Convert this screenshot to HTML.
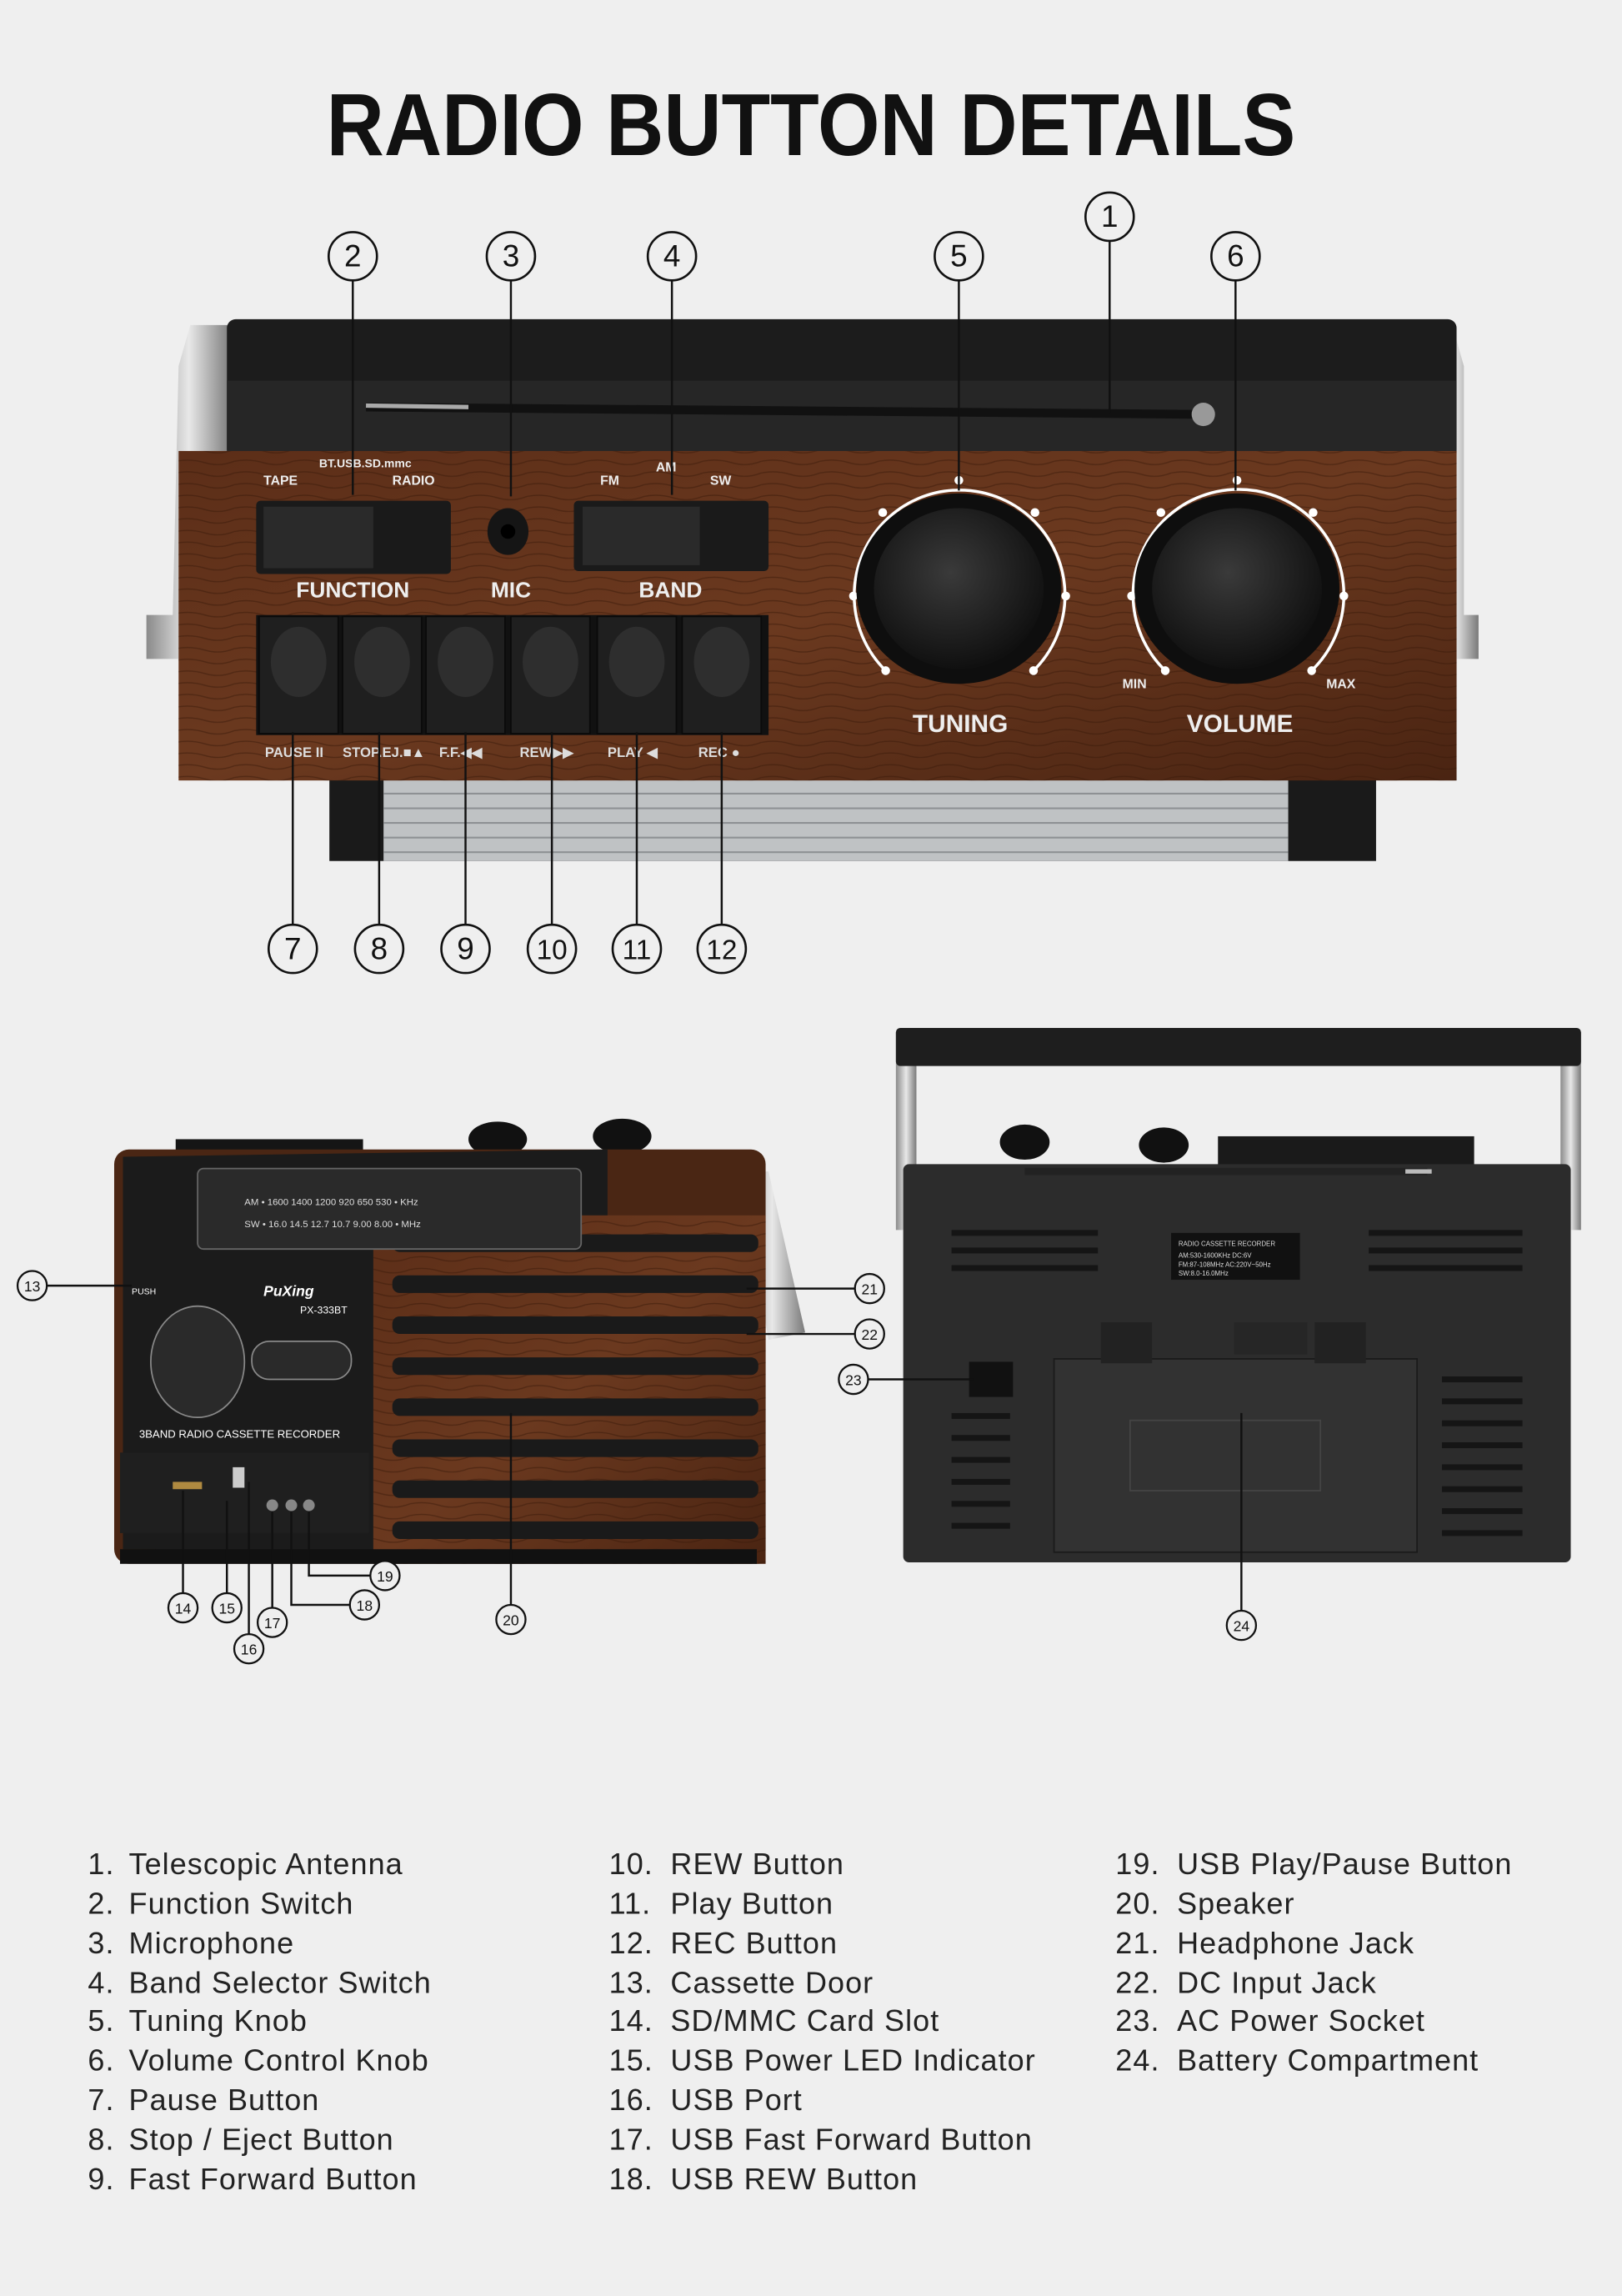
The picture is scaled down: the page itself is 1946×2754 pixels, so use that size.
<!DOCTYPE html>
<html><head><meta charset="utf-8"><style>
html,body{margin:0;padding:0;background:#efefef;}
svg{display:block;}
</style></head><body>
<svg width="1946" height="2754" viewBox="0 0 1108 1568" preserveAspectRatio="none" xmlns="http://www.w3.org/2000/svg" font-family="Liberation Sans, sans-serif">
<defs>
<linearGradient id="wood" x1="0" y1="0" x2="1" y2="1">
<stop offset="0" stop-color="#5c2e18"/><stop offset=".5" stop-color="#6b391f"/><stop offset="1" stop-color="#4a2412"/>
</linearGradient>
<linearGradient id="silver" x1="0" y1="0" x2="1" y2="0">
<stop offset="0" stop-color="#8a8a8a"/><stop offset=".5" stop-color="#e8e8e8"/><stop offset="1" stop-color="#7a7a7a"/>
</linearGradient>
<radialGradient id="knob" cx=".45" cy=".4" r=".6">
<stop offset="0" stop-color="#3a3a3a"/><stop offset="1" stop-color="#101010"/>
</radialGradient>
<pattern id="grain" width="40" height="8" patternUnits="userSpaceOnUse">
<path d="M0 3 Q10 1 20 4 T40 3" stroke="#3a1a0a" stroke-width=".8" fill="none" opacity=".5"/>
</pattern>
</defs>
<rect width="1108" height="1568" fill="#efefef"/>
<text x="554" y="106" text-anchor="middle" font-size="60" font-weight="bold" fill="#111" textLength="662" lengthAdjust="spacingAndGlyphs">RADIO BUTTON DETAILS</text>

<!-- TOP RADIO -->
<path d="M130 222 L158 222 L158 450 L100 450 L100 420 L118 420 L122 250 Z" fill="url(#silver)"/>
<path d="M978 222 L992 222 L1000 250 L1000 420 L1010 420 L1010 450 L978 450 Z" fill="url(#silver)"/>
<rect x="155" y="218" width="840" height="95" rx="6" fill="#1c1c1c"/>
<rect x="155" y="260" width="840" height="50" fill="#262626"/>
<line x1="250" y1="278" x2="825" y2="283" stroke="#111" stroke-width="6"/>
<line x1="250" y1="277" x2="320" y2="278" stroke="#aaa" stroke-width="3"/>
<circle cx="822" cy="283" r="8" fill="#999"/>
<rect x="225" y="530" width="715" height="58" fill="#1a1a1a"/>
<rect x="262" y="532" width="618" height="56" fill="#bfc2c4"/>
<g stroke="#8e9194" stroke-width="1.2">
<line x1="262" y1="542" x2="880" y2="542"/><line x1="262" y1="552" x2="880" y2="552"/><line x1="262" y1="562" x2="880" y2="562"/><line x1="262" y1="572" x2="880" y2="572"/><line x1="262" y1="582" x2="880" y2="582"/>
</g>
<rect x="122" y="308" width="873" height="225" fill="url(#wood)"/>
<rect x="122" y="308" width="873" height="225" fill="url(#grain)"/>
<g fill="#eee" font-weight="bold">
<text x="218" y="319" font-size="8">BT.USB.SD.mmc</text>
<text x="180" y="331" font-size="9">TAPE</text><text x="268" y="331" font-size="9">RADIO</text>
<text x="410" y="331" font-size="9">FM</text><text x="448" y="322" font-size="9">AM</text><text x="485" y="331" font-size="9">SW</text>
<text x="241" y="408" font-size="15" text-anchor="middle">FUNCTION</text>
<text x="349" y="408" font-size="15" text-anchor="middle">MIC</text>
<text x="458" y="408" font-size="15" text-anchor="middle">BAND</text>
<text x="656" y="500" font-size="17" text-anchor="middle">TUNING</text>
<text x="847" y="500" font-size="17" text-anchor="middle">VOLUME</text>
<text x="775" y="470" font-size="9" text-anchor="middle">MIN</text>
<text x="916" y="470" font-size="9" text-anchor="middle">MAX</text>
</g>
<rect x="175" y="342" width="133" height="50" rx="3" fill="#1a1a1a"/>
<rect x="180" y="346" width="75" height="42" fill="#2a2a2a"/>
<ellipse cx="347" cy="363" rx="14" ry="16" fill="#151515"/><circle cx="347" cy="363" r="5" fill="#000"/>
<rect x="392" y="342" width="133" height="48" rx="3" fill="#1a1a1a"/>
<rect x="398" y="346" width="80" height="40" fill="#2a2a2a"/>
<g fill="none" stroke="#fff" stroke-width="2">
<path d="M605 458 A72 72 0 1 1 706 458"/>
<path d="M796 458 A72 72 0 1 1 896 458"/>
</g>
<g fill="#fff">
<circle cx="655" cy="328" r="3"/><circle cx="603" cy="350" r="3"/><circle cx="707" cy="350" r="3"/><circle cx="583" cy="407" r="3"/><circle cx="728" cy="407" r="3"/><circle cx="605" cy="458" r="3"/><circle cx="706" cy="458" r="3"/>
<circle cx="845" cy="328" r="3"/><circle cx="793" cy="350" r="3"/><circle cx="897" cy="350" r="3"/><circle cx="773" cy="407" r="3"/><circle cx="918" cy="407" r="3"/><circle cx="796" cy="458" r="3"/><circle cx="896" cy="458" r="3"/>
</g>
<ellipse cx="655" cy="402" rx="70" ry="65" fill="#0e0e0e"/>
<ellipse cx="655" cy="402" rx="58" ry="55" fill="url(#knob)"/>
<ellipse cx="845" cy="402" rx="70" ry="65" fill="#0e0e0e"/>
<ellipse cx="845" cy="402" rx="58" ry="55" fill="url(#knob)"/>
<g>
<rect x="175" y="420" width="350" height="82" fill="#111"/>
<g fill="#1f1f1f" stroke="#0a0a0a">
<rect x="177" y="421" width="54" height="80"/><rect x="234" y="421" width="54" height="80"/><rect x="291" y="421" width="54" height="80"/><rect x="349" y="421" width="54" height="80"/><rect x="408" y="421" width="54" height="80"/><rect x="466" y="421" width="54" height="80"/>
</g>
<g fill="#2e2e2e">
<ellipse cx="204" cy="452" rx="19" ry="24"/><ellipse cx="261" cy="452" rx="19" ry="24"/><ellipse cx="318" cy="452" rx="19" ry="24"/><ellipse cx="376" cy="452" rx="19" ry="24"/><ellipse cx="435" cy="452" rx="19" ry="24"/><ellipse cx="493" cy="452" rx="19" ry="24"/>
</g>
</g>
<g fill="#ddd" font-size="9.5" font-weight="bold">
<text x="181" y="517">PAUSE II</text><text x="234" y="517">STOP.EJ.■▲</text><text x="300" y="517">F.F.◀◀</text><text x="355" y="517">REW▶▶</text><text x="415" y="517">PLAY ◀</text><text x="477" y="517">REC ●</text>
</g>

<g stroke="#111" stroke-width="1.4" fill="none">
<line x1="758" y1="165" x2="758" y2="282"/>
<line x1="241" y1="192" x2="241" y2="338"/>
<line x1="349" y1="192" x2="349" y2="339"/>
<line x1="459" y1="192" x2="459" y2="338"/>
<line x1="655" y1="192" x2="655" y2="335"/>
<line x1="844" y1="192" x2="844" y2="335"/>
<line x1="200" y1="500" x2="200" y2="631"/>
<line x1="259" y1="500" x2="259" y2="631"/>
<line x1="318" y1="500" x2="318" y2="631"/>
<line x1="377" y1="500" x2="377" y2="631"/>
<line x1="435" y1="500" x2="435" y2="631"/>
<line x1="493" y1="500" x2="493" y2="631"/>
</g>
<g stroke="#111" stroke-width="1.5" fill="#efefef">
<circle cx="758" cy="148" r="16.5"/><circle cx="241" cy="175" r="16.5"/><circle cx="349" cy="175" r="16.5"/><circle cx="459" cy="175" r="16.5"/><circle cx="655" cy="175" r="16.5"/><circle cx="844" cy="175" r="16.5"/>
<circle cx="200" cy="648" r="16.5"/><circle cx="259" cy="648" r="16.5"/><circle cx="318" cy="648" r="16.5"/><circle cx="377" cy="648" r="16.5"/><circle cx="435" cy="648" r="16.5"/><circle cx="493" cy="648" r="16.5"/>
</g>
<g font-size="21" text-anchor="middle" fill="#111">
<text x="758" y="155">1</text><text x="241" y="182">2</text><text x="349" y="182">3</text><text x="459" y="182">4</text><text x="655" y="182">5</text><text x="844" y="182">6</text>
<text x="200" y="655">7</text><text x="259" y="655">8</text><text x="318" y="655">9</text><text x="377" y="655" font-size="19">10</text><text x="435" y="655" font-size="19">11</text><text x="493" y="655" font-size="19">12</text>
</g>

<!-- BOTTOM LEFT RADIO -->
<rect x="120" y="778" width="128" height="22" fill="#151515"/>
<ellipse cx="340" cy="778" rx="20" ry="12" fill="#111"/>
<ellipse cx="425" cy="776" rx="20" ry="12" fill="#111"/>
<path d="M505 800 L525 800 L550 910 L525 915 Z" fill="url(#silver)"/>
<rect x="78" y="785" width="445" height="283" rx="10" fill="#4a2614"/>
<path d="M84 790 L415 785 L415 1060 L84 1058 Z" fill="#1b1b1b"/>
<rect x="255" y="830" width="268" height="238" fill="url(#wood)"/>
<rect x="255" y="830" width="268" height="238" fill="url(#grain)"/>
<g fill="#1a1a1a">
<rect x="268" y="843" width="250" height="12" rx="5"/><rect x="268" y="871" width="250" height="12" rx="5"/><rect x="268" y="899" width="250" height="12" rx="5"/><rect x="268" y="927" width="250" height="12" rx="5"/><rect x="268" y="955" width="250" height="12" rx="5"/><rect x="268" y="983" width="250" height="12" rx="5"/><rect x="268" y="1011" width="250" height="12" rx="5"/><rect x="268" y="1039" width="250" height="12" rx="5"/>
</g>
<rect x="135" y="798" width="262" height="55" rx="4" fill="#2a2a2a" stroke="#666"/>
<g fill="#ddd" font-size="6.5">
<text x="167" y="823">AM   •  1600 1400 1200  920   650 530  •  KHz</text>
<text x="167" y="838">SW   •  16.0 14.5  12.7  10.7  9.00 8.00  •  MHz</text>
</g>
<g fill="#fff" font-size="7">
<text x="180" y="885" font-weight="bold" font-size="10" font-style="italic">PuXing</text>
<text x="205" y="897" font-size="7">PX-333BT</text>
<text x="95" y="982" font-size="7.5">3BAND RADIO CASSETTE RECORDER</text>
<text x="182" y="931" font-size="7">AUTO STOP</text>
<text x="90" y="884" font-size="6">PUSH</text>
</g>
<ellipse cx="135" cy="930" rx="32" ry="38" fill="#2a2a2a" stroke="#888"/>
<rect x="172" y="916" width="68" height="26" rx="12" fill="#2a2a2a" stroke="#888"/>
<rect x="82" y="992" width="170" height="55" fill="#1f1f1f"/>
<rect x="118" y="1012" width="20" height="5" fill="#b08a40"/>
<rect x="159" y="1002" width="8" height="14" fill="#ccc"/>
<g fill="#888"><circle cx="186" cy="1028" r="4"/><circle cx="199" cy="1028" r="4"/><circle cx="211" cy="1028" r="4"/></g>
<rect x="82" y="1058" width="435" height="10" fill="#111"/>

<!-- BOTTOM RIGHT RADIO -->
<rect x="612" y="705" width="14" height="135" fill="url(#silver)"/>
<rect x="1066" y="705" width="14" height="135" fill="url(#silver)"/>
<rect x="612" y="702" width="468" height="26" rx="3" fill="#1e1e1e"/>
<ellipse cx="700" cy="780" rx="17" ry="12" fill="#111"/>
<ellipse cx="795" cy="782" rx="17" ry="12" fill="#111"/>
<rect x="832" y="776" width="175" height="20" fill="#1a1a1a"/>
<rect x="617" y="795" width="456" height="272" rx="4" fill="#2c2c2c"/>
<line x1="700" y1="800" x2="975" y2="800" stroke="#222" stroke-width="5"/>
<line x1="960" y1="800" x2="978" y2="800" stroke="#bbb" stroke-width="3"/>
<rect x="800" y="842" width="88" height="32" fill="#111"/>
<g fill="#ddd" font-size="4.5"><text x="805" y="851">RADIO CASSETTE RECORDER</text><text x="805" y="859">AM:530-1600KHz DC:6V</text><text x="805" y="865">FM:87-108MHz AC:220V~50Hz</text><text x="805" y="871">SW:8.0-16.0MHz</text></g>
<g fill="#151515">
<rect x="650" y="840" width="100" height="4"/><rect x="650" y="852" width="100" height="4"/><rect x="650" y="864" width="100" height="4"/>
<rect x="935" y="840" width="105" height="4"/><rect x="935" y="852" width="105" height="4"/><rect x="935" y="864" width="105" height="4"/>
<rect x="985" y="940" width="55" height="4"/><rect x="985" y="955" width="55" height="4"/><rect x="985" y="970" width="55" height="4"/><rect x="985" y="985" width="55" height="4"/><rect x="985" y="1000" width="55" height="4"/><rect x="985" y="1015" width="55" height="4"/><rect x="985" y="1030" width="55" height="4"/><rect x="985" y="1045" width="55" height="4"/>
<rect x="650" y="965" width="40" height="4"/><rect x="650" y="980" width="40" height="4"/><rect x="650" y="995" width="40" height="4"/><rect x="650" y="1010" width="40" height="4"/><rect x="650" y="1025" width="40" height="4"/><rect x="650" y="1040" width="40" height="4"/>
</g>
<rect x="720" y="928" width="248" height="132" fill="#323232" stroke="#1a1a1a"/>
<rect x="772" y="970" width="130" height="48" fill="none" stroke="#444"/>
<rect x="752" y="903" width="35" height="28" fill="#222"/>
<rect x="898" y="903" width="35" height="28" fill="#222"/>
<rect x="843" y="903" width="50" height="22" fill="#262626"/>
<rect x="662" y="930" width="30" height="24" fill="#111"/>

<g stroke="#111" stroke-width="1.4" fill="none">
<line x1="32" y1="878" x2="90" y2="878"/>
<polyline points="125,1088 125,1018"/>
<polyline points="155,1088 155,1025"/>
<polyline points="170,1116 170,1012"/>
<polyline points="186,1098 186,1032"/>
<polyline points="239,1096 199,1096 199,1032"/>
<polyline points="253,1076 211,1076 211,1032"/>
<line x1="349" y1="1096" x2="349" y2="965"/>
<line x1="584" y1="880" x2="510" y2="880"/>
<line x1="584" y1="911" x2="510" y2="911"/>
<line x1="593" y1="942" x2="665" y2="942"/>
<line x1="848" y1="1100" x2="848" y2="965"/>
</g>
<g stroke="#111" stroke-width="1.3" fill="#efefef">
<circle cx="22" cy="878" r="10"/><circle cx="125" cy="1098" r="10"/><circle cx="155" cy="1098" r="10"/><circle cx="170" cy="1126" r="10"/><circle cx="186" cy="1108" r="10"/><circle cx="249" cy="1096" r="10"/><circle cx="263" cy="1076" r="10"/><circle cx="349" cy="1106" r="10"/><circle cx="594" cy="880" r="10"/><circle cx="594" cy="911" r="10"/><circle cx="583" cy="942" r="10"/><circle cx="848" cy="1110" r="10"/>
</g>
<g font-size="10" text-anchor="middle" fill="#111">
<text x="22" y="882">13</text><text x="125" y="1102">14</text><text x="155" y="1102">15</text><text x="170" y="1130">16</text><text x="186" y="1112">17</text><text x="249" y="1100">18</text><text x="263" y="1080">19</text><text x="349" y="1110">20</text><text x="594" y="884">21</text><text x="594" y="915">22</text><text x="583" y="946">23</text><text x="848" y="1114">24</text>
</g>

<!-- legend -->
<g font-size="20.5" fill="#222" letter-spacing="0.6">
<g>
<text x="60" y="1280">1.</text><text x="88" y="1280">Telescopic Antenna</text>
<text x="60" y="1307">2.</text><text x="88" y="1307">Function Switch</text>
<text x="60" y="1334">3.</text><text x="88" y="1334">Microphone</text>
<text x="60" y="1361">4.</text><text x="88" y="1361">Band Selector Switch</text>
<text x="60" y="1387">5.</text><text x="88" y="1387">Tuning Knob</text>
<text x="60" y="1414">6.</text><text x="88" y="1414">Volume Control Knob</text>
<text x="60" y="1441">7.</text><text x="88" y="1441">Pause Button</text>
<text x="60" y="1468">8.</text><text x="88" y="1468">Stop / Eject Button</text>
<text x="60" y="1495">9.</text><text x="88" y="1495">Fast Forward Button</text>
</g>
<g>
<text x="416" y="1280">10.</text><text x="458" y="1280">REW Button</text>
<text x="416" y="1307">11.</text><text x="458" y="1307">Play Button</text>
<text x="416" y="1334">12.</text><text x="458" y="1334">REC Button</text>
<text x="416" y="1361">13.</text><text x="458" y="1361">Cassette Door</text>
<text x="416" y="1387">14.</text><text x="458" y="1387">SD/MMC Card Slot</text>
<text x="416" y="1414">15.</text><text x="458" y="1414">USB Power LED Indicator</text>
<text x="416" y="1441">16.</text><text x="458" y="1441">USB Port</text>
<text x="416" y="1468">17.</text><text x="458" y="1468">USB Fast Forward Button</text>
<text x="416" y="1495">18.</text><text x="458" y="1495">USB REW Button</text>
</g>
<g>
<text x="762" y="1280">19.</text><text x="804" y="1280">USB Play/Pause Button</text>
<text x="762" y="1307">20.</text><text x="804" y="1307">Speaker</text>
<text x="762" y="1334">21.</text><text x="804" y="1334">Headphone Jack</text>
<text x="762" y="1361">22.</text><text x="804" y="1361">DC Input Jack</text>
<text x="762" y="1387">23.</text><text x="804" y="1387">AC Power Socket</text>
<text x="762" y="1414">24.</text><text x="804" y="1414">Battery Compartment</text>
</g>
</g>
</svg>
</body></html>
